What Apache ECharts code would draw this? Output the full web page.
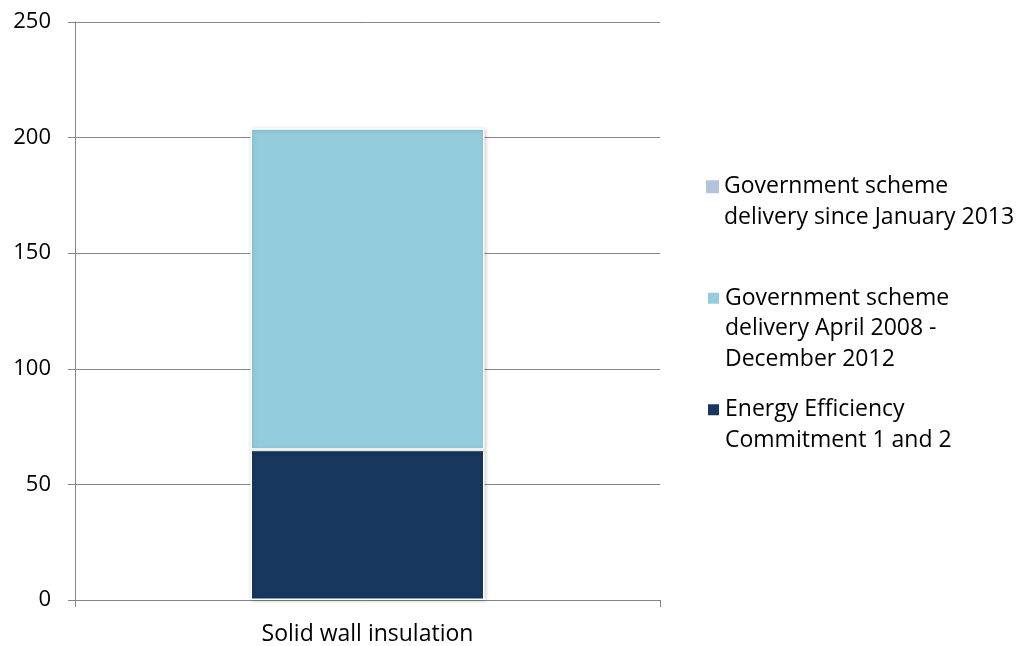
<!DOCTYPE html>
<html><head><meta charset="utf-8">
<script src="https://cdn.jsdelivr.net/npm/echarts@6/dist/echarts.min.js"></script>
<style>html,body{margin:0;padding:0;background:#fff}#c{width:1025px;height:646px}</style>
</head><body><div id="c"></div>
<script>
const categories = ['Solid wall insulation'];
const seriesNames = ['Energy Efficiency Commitment 1 and 2', 'Government scheme delivery April 2008 - December 2012', 'Government scheme delivery since January 2013'];
const legendLabels = ['Energy Efficiency\nCommitment 1 and 2', 'Government scheme\ndelivery April 2008 -\nDecember 2012', 'Government scheme\ndelivery since January 2013'];
const eecValues = [65];
const apr2008Values = [139];
const jan2013Values = [0];
const yTicks = [0, 50, 100, 150, 200, 250];

const colors = ['#17375e', '#93cddd', '#b3c2dd'];
const font = 'Open Sans';
const fs = 22;
const lfs = 23;
const lh = 30.5;
const valuesList = [eecValues, apr2008Values, jan2013Values];
const iconCenters = [410, 298, 187];

const chart = echarts.init(document.getElementById('c'));
chart.setOption({
  animation: false,
  grid: {left: 75, right: 365, top: 22, bottom: 45},
  xAxis: {
    type: 'category', data: categories,
    axisLine: {lineStyle: {color: '#868686', width: 1}},
    axisTick: {show: true, length: 7, lineStyle: {color: '#868686'}},
    axisLabel: {color: '#000', fontFamily: font, fontSize: 23, margin: 23}
  },
  yAxis: {
    type: 'value', min: yTicks[0], max: yTicks[yTicks.length - 1], interval: 50,
    axisLine: {show: true, lineStyle: {color: '#868686'}},
    axisTick: {show: true, length: 7, lineStyle: {color: '#868686'}},
    splitLine: {lineStyle: {color: '#868686'}},
    axisLabel: {color: '#000', fontFamily: font, fontSize: fs, margin: 24}
  },
  legend: seriesNames.map((n, i) => {
    const lines = legendLabels[i].split('\n').length;
    const boxH = (2 * lines - 1) * lh;
    return {
      data: [n], left: 706, top: Math.round(iconCenters[i] - boxH / 2), orient: 'vertical',
      itemWidth: 13, itemHeight: 13, itemGap: 0, padding: 0,
      icon: 'rect',
      formatter: () => '\n'.repeat(lines - 1) + legendLabels[i],
      textStyle: {color: '#000', fontFamily: font, fontSize: lfs, lineHeight: lh}
    };
  }),
  series: seriesNames.map((n, i) => ({
    name: n, type: 'bar', stack: 'total', data: valuesList[i],
    barWidth: '40%',
    itemStyle: i < 2
      ? {color: colors[i], borderColor: '#fff', borderWidth: 1.5, shadowColor: 'rgba(0,0,0,0.2)', shadowBlur: 4, shadowOffsetX: 1, shadowOffsetY: 1}
      : {color: colors[i], borderWidth: 0}
  }))
});
</script></body></html>
